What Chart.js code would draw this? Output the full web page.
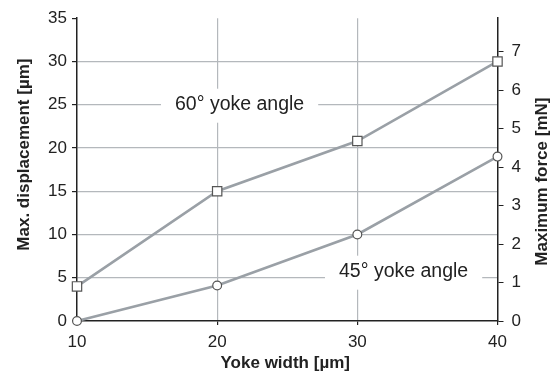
<!DOCTYPE html>
<html>
<head>
<meta charset="utf-8">
<script src="https://cdn.jsdelivr.net/npm/chart.js@4/dist/chart.umd.min.js"></script>
<style>
  html, body { margin: 0; padding: 0; background: #fff; }
  #wrap { width: 552px; height: 374px; }
</style>
</head>
<body>
<div id="wrap"><canvas id="chart"></canvas></div>
<script>
// yoke width on x, displacement in um on the left axis
const yokeWidths = [10, 20, 30, 40];
const angle60 = [4, 15, 20.8, 30];
const angle45 = [0, 4.1, 10, 19];

const xTicks = [10, 20, 30, 40];
const leftTicks = [0, 5, 10, 15, 20, 25, 30, 35];
const rightTicks = [0, 1, 2, 3, 4, 5, 6, 7];
const rightMax = 7.87;

const labels = [
    { text: '60\u00b0 yoke angle', x: 21.6, y: 25 },
    { text: '45\u00b0 yoke angle', x: 33.3, y: 5.7 }
];

const axisColor = '#222';
const gridColor = '#b4b8bc';
const lineColor = '#9aa0a6';
const fontFamily = '"Liberation Sans", Arial, sans-serif';

function toPoints(ys) {
    return yokeWidths.map((x, i) => ({ x: x, y: ys[i] }));
}

function keepTicks(values) {
    return axis => {
        axis.ticks = values.map(v => ({ value: v }));
    };
}

// white boxed labels that cut the grid, plus the axis titles
const textPlugin = {
    id: 'textPlugin',
    beforeDatasetsDraw(chart) {
        const ctx = chart.ctx;
        const xs = chart.scales.x;
        const ys = chart.scales.y;
        ctx.save();
        ctx.font = '19.5px ' + fontFamily;
        ctx.textAlign = 'center';
        ctx.textBaseline = 'middle';
        labels.forEach(l => {
            const px = xs.getPixelForValue(l.x);
            const py = ys.getPixelForValue(l.y);
            const w = ctx.measureText(l.text).width;
            ctx.fillStyle = '#fff';
            ctx.fillRect(px - w / 2 - 14, py - 16, w + 28, 34);
            ctx.fillStyle = axisColor;
            ctx.fillText(l.text, px, py);
        });
        ctx.restore();
    },
    afterDraw(chart) {
        const ctx = chart.ctx;
        const area = chart.chartArea;
        ctx.save();
        ctx.font = 'bold 17px ' + fontFamily;
        ctx.fillStyle = axisColor;
        ctx.textAlign = 'center';
        ctx.textBaseline = 'middle';
        ctx.fillText('Yoke width [\u00b5m]', (area.left + area.right) / 2 - 2, 363);

        ctx.translate(24, (area.top + area.bottom) / 2 - 15);
        ctx.rotate(-Math.PI / 2);
        ctx.fillText('Max. displacement [\u00b5m]', 0, 0);
        ctx.restore();

        ctx.save();
        ctx.font = 'bold 17px ' + fontFamily;
        ctx.fillStyle = axisColor;
        ctx.textAlign = 'center';
        ctx.textBaseline = 'middle';
        ctx.translate(542, (area.top + area.bottom) / 2 + 12);
        ctx.rotate(-Math.PI / 2);
        ctx.fillText('Maximum force [mN]', 0, 0);
        ctx.restore();
    }
};

const ctx = document.getElementById('chart').getContext('2d');
const chart = new Chart(ctx, {
    type: 'line',
    data: {
        datasets: [
            {
                label: '60\u00b0 yoke angle',
                data: toPoints(angle60),
                borderColor: lineColor,
                borderWidth: 2.6,
                pointStyle: 'rect',
                pointRadius: 6.6,
                pointBorderWidth: 1.2,
                pointBorderColor: '#555',
                pointBackgroundColor: '#fff',
                clip: false,
                yAxisID: 'y'
            },
            {
                label: '45\u00b0 yoke angle',
                data: toPoints(angle45),
                borderColor: lineColor,
                borderWidth: 2.6,
                pointStyle: 'circle',
                pointRadius: 4.4,
                pointBorderWidth: 1.2,
                pointBorderColor: '#555',
                pointBackgroundColor: '#fff',
                clip: false,
                yAxisID: 'y'
            }
        ]
    },
    options: {
        responsive: true,
        maintainAspectRatio: false,
        animation: false,
        layout: { padding: { top: 18, left: 0, right: 0, bottom: 0 } },
        plugins: {
            legend: { display: false },
            tooltip: { enabled: false }
        },
        scales: {
            x: {
                type: 'linear',
                min: 10,
                max: 40,
                afterBuildTicks: keepTicks(xTicks),
                afterFit: s => { s.height = 53; },
                ticks: {
                    color: axisColor,
                    font: { family: fontFamily, size: 17 },
                    padding: 7,
                    maxRotation: 0
                },
                grid: {
                    color: c => (c.tick && (c.tick.value === 10 || c.tick.value === 40)) ? 'rgba(0,0,0,0)' : gridColor,
                    tickColor: axisColor,
                    tickLength: 4,
                    lineWidth: 1.2
                },
                border: { color: axisColor, width: 1.5 }
            },
            y: {
                position: 'left',
                min: 0,
                max: 35,
                afterBuildTicks: keepTicks(leftTicks),
                afterFit: s => { s.width = 77; },
                ticks: {
                    color: axisColor,
                    font: { family: fontFamily, size: 17 },
                    padding: 5
                },
                grid: {
                    color: c => (c.tick && (c.tick.value === 0 || c.tick.value === 35)) ? 'rgba(0,0,0,0)' : gridColor,
                    tickColor: axisColor,
                    tickLength: 5,
                    lineWidth: 1.2
                },
                border: { color: axisColor, width: 1.5 }
            },
            y2: {
                position: 'right',
                min: 0,
                max: rightMax,
                afterBuildTicks: keepTicks(rightTicks),
                afterFit: s => { s.width = 54.5; },
                ticks: {
                    color: axisColor,
                    font: { family: fontFamily, size: 17 },
                    padding: 8
                },
                grid: {
                    drawOnChartArea: false,
                    tickColor: axisColor,
                    tickLength: 6
                },
                border: { color: axisColor, width: 1.5 }
            }
        }
    },
    plugins: [textPlugin]
});
</script>
</body>
</html>
